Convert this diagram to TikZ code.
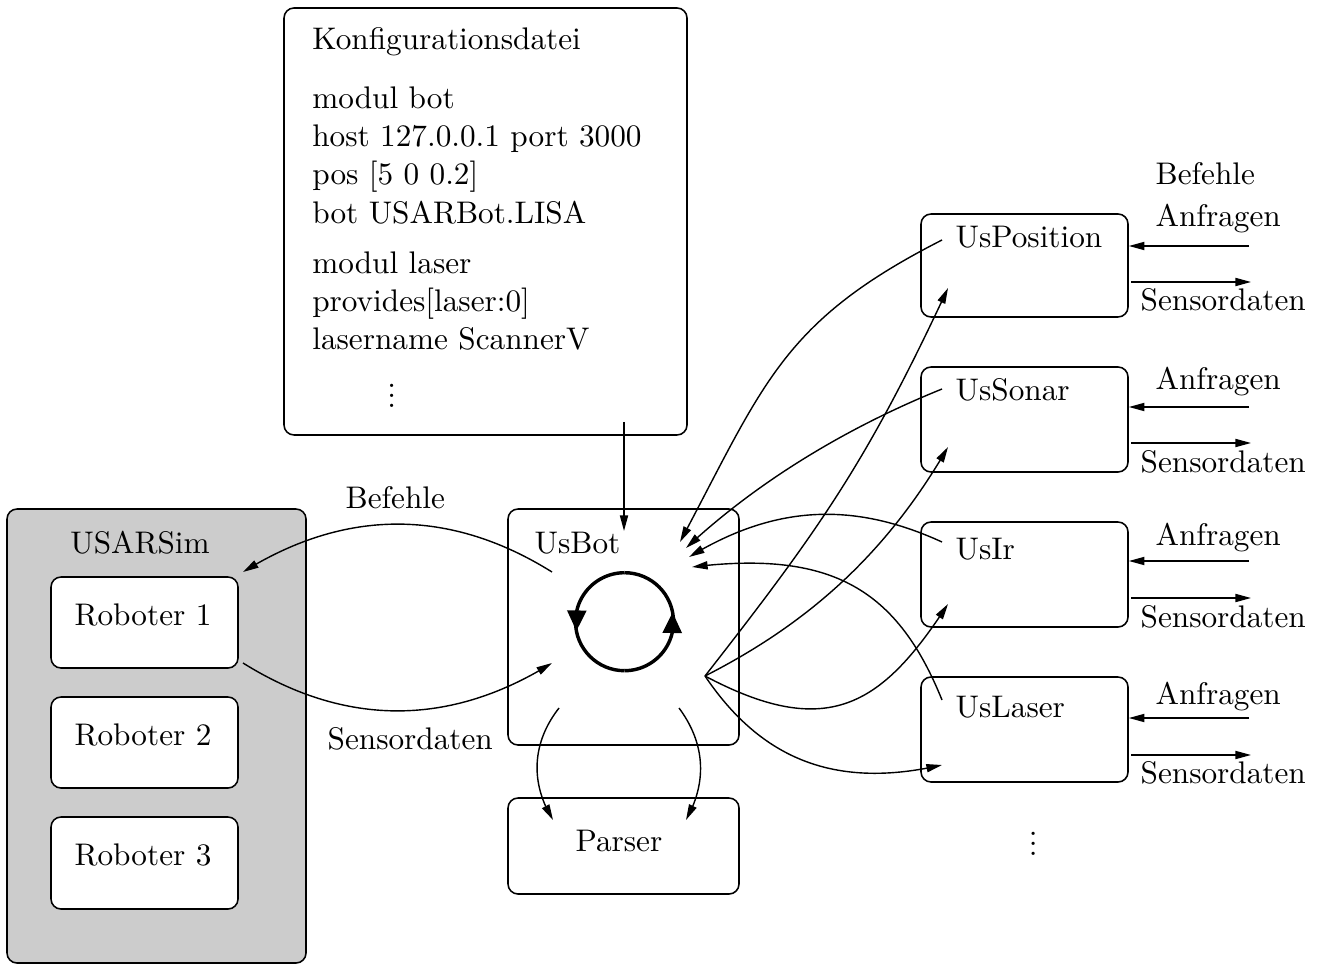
\documentclass[tikz,border=0pt]{standalone}
\usetikzlibrary{arrows.meta,bending,fit}
\newcommand\dotcol{\vbox{\baselineskip3.3pt\lineskiplimit0pt\hbox{.}\hbox{.}\hbox{.}}}
\begin{document}
\begin{tikzpicture}[x=0.32pt,y=0.32pt,
  box/.style={draw, rounded corners=3.2pt, inner sep=0pt, line width=0.5pt},
  txt/.style={inner sep=0pt, anchor=base west},
  ctxt/.style={inner sep=0pt, anchor=base},
  conn/.style={-{Triangle[length=5pt,width=2.6pt]}, line width=0.45pt},
  cyc/.style={line width=1.1pt},
  cyctip/.style={cyc, -{Triangle[length=6.6pt,width=6pt]}}]

\useasboundingbox (0,0) rectangle (1318,-965);

% ---------- boxes ----------
\node[box, fit={(284,-8) (687,-435)}] (cfg) {};
\node[box, fill=black!20, fit={(7,-509) (306,-963)}] (sim) {};
\node[box, fill=white, fit={(51,-577) (238,-668)}] (rob1) {};
\node[box, fill=white, fit={(51,-697) (238,-788)}] (rob2) {};
\node[box, fill=white, fit={(51,-817) (238,-909)}] (rob3) {};
\node[box, fit={(508,-509) (739,-745)}] (bot) {};
\node[box, fit={(508,-798) (739,-894)}] (parser) {};
\node[box, fit={(921,-214) (1128,-317)}] (upos) {};
\node[box, fit={(921,-367) (1128,-472)}] (uson) {};
\node[box, fit={(921,-522) (1128,-627)}] (uir) {};
\node[box, fit={(921,-677) (1128,-782)}] (ulas) {};

% ---------- configuration file ----------
\node[txt] (k0) at (311.7,-49.3) {Konfigurationsdatei};
\node[txt] (k1) at (311.7,-108.3) {modul bot};
\node[txt] (k2) at (311.7,-146.7) {host 127.0.0.1 port 3000};
\node[txt] (k3) at (311.7,-185) {pos [5 0 0.2]};
\node[txt] (k4) at (311.7,-223.3) {bot USARBot.LISA};
\node[txt] (k5) at (311.7,-273.3) {modul laser};
\node[txt] (k6) at (311.7,-311.7) {provides[laser:0]};
\node[txt] (k7) at (311.7,-350) {lasername ScannerV};
\node[inner sep=0pt] (k8) at (391.7,-396) {\dotcol};

% ---------- simulator ----------
\node[ctxt] (tsim) at (140,-553) {USARSim};
\node[ctxt] (trob1) at (143,-625) {Roboter 1};
\node[ctxt] (trob2) at (143,-745) {Roboter 2};
\node[ctxt] (trob3) at (143,-865) {Roboter 3};

% ---------- bot and parser ----------
\node[txt] (tbot) at (534,-553) {UsBot};
\node[ctxt] (tparser) at (619,-851) {Parser};

% ---------- sensor modules ----------
\node[txt] (tpos) at (955,-248) {UsPosition};
\node[txt] (tson) at (955,-401) {UsSonar};
\node[txt] (tir) at (955,-559) {UsIr};
\node[txt] (tlas) at (955,-717) {UsLaser};
\node[inner sep=0pt] (more) at (1033.3,-844) {\dotcol};

% ---------- link labels ----------
\node[txt] (lcmd) at (345,-508) {Befehle};
\node[txt] (lsen) at (327,-749) {Sensordaten};
\node[txt] (rcmd) at (1155,-185) {Befehle};
\node[txt] (qpos) at (1155,-227) {Anfragen};
\node[txt] (spos) at (1140,-311) {Sensordaten};
\node[txt] (qson) at (1155,-390) {Anfragen};
\node[txt] (sson) at (1140,-472) {Sensordaten};
\node[txt] (qir) at (1155,-545) {Anfragen};
\node[txt] (sir) at (1140,-627) {Sensordaten};
\node[txt] (qlas) at (1155,-704) {Anfragen};
\node[txt] (slas) at (1140,-783) {Sensordaten};

% ---------- main loop symbol ----------
\node[circle, minimum size=31.36pt, inner sep=0pt, outer sep=0pt] (loop) at (624.5,-621.7) {};
\draw[cyc] (loop.west) arc[start angle=180, end angle=270, radius=49];
\draw[cyc] (loop.east) arc[start angle=0, end angle=90, radius=49];
\draw[cyctip] (loop.north) arc[start angle=90, end angle=191, radius=49];
\draw[cyctip] (loop.south) arc[start angle=270, end angle=371, radius=49];

% ---------- connector end points ----------
\coordinate (cfgOut) at (624,-422);
\coordinate (botTop) at (624,-531);
\coordinate (cmdA) at (552,-572);
\coordinate (cmdB) at (243,-572);
\coordinate (senA) at (243,-663);
\coordinate (senB) at (552,-663);
\coordinate (posA) at (942,-240);
\coordinate (sonA) at (942,-389);
\coordinate (irA) at (942,-542);
\coordinate (lasA) at (942,-700);
\coordinate (inPos) at (680,-542);
\coordinate (inSon) at (686,-548);
\coordinate (inIr) at (689,-557);
\coordinate (inLas) at (692,-567);
\coordinate (fan) at (705,-676);
\coordinate (posB) at (948,-288);
\coordinate (sonB) at (948,-447);
\coordinate (irB) at (948,-604);
\coordinate (lasB) at (942,-765);
\coordinate (prsA) at (559,-708);
\coordinate (prsB) at (553,-820);
\coordinate (prsC) at (679,-708);
\coordinate (prsD) at (686,-820);

% configuration -> bot
\draw[conn] (cfgOut) -- (botTop);
% bot <-> simulator
\draw[conn] (cmdA) to[bend right=32] (cmdB);
\draw[conn] (senA) to[bend right=32] (senB);
% bot -> parser
\draw[conn] (prsA) to[bend right=35] (prsB);
\draw[conn] (prsC) to[bend left=33] (prsD);
% modules -> bot
\draw[conn] (posA) to[out=207, in=62, distance=57.6pt] (inPos);
\draw[conn] (sonA) to[out=202, in=43, distance=32pt] (inSon);
\draw[conn] (irA) to[bend right=28] (inIr);
\draw[conn] (lasA) to[out=112, in=7, out distance=38.4pt, in distance=44.8pt] (inLas);
% bot -> modules
\draw[conn] (fan) to[out=52, in=245, distance=60.8pt] (posB);
\draw[conn] (fan) to[out=27, in=240, distance=38.4pt] (sonB);
\draw[conn] (fan) to[out=-28, in=237, out distance=44.8pt, in distance=38.4pt] (irB);
\draw[conn] (fan) to[out=-56, in=193, out distance=32pt, in distance=35.2pt] (lasB);

% requests in, sensor data out
\coordinate (posQ) at (1249,-246);
\coordinate (posO) at (1131,-282);
\coordinate (posP) at (1251,-282);
\coordinate (sonQ) at (1249,-407);
\coordinate (sonO) at (1131,-443);
\coordinate (sonP) at (1251,-443);
\coordinate (irQ) at (1249,-561);
\coordinate (irO) at (1131,-598);
\coordinate (irP) at (1251,-598);
\coordinate (lasQ) at (1249,-718);
\coordinate (lasO) at (1131,-755);
\coordinate (lasP) at (1251,-755);
\draw[conn] (posQ) -- (posQ -| upos.east);
\draw[conn] (posO) -- (posP);
\draw[conn] (sonQ) -- (sonQ -| uson.east);
\draw[conn] (sonO) -- (sonP);
\draw[conn] (irQ) -- (irQ -| uir.east);
\draw[conn] (irO) -- (irP);
\draw[conn] (lasQ) -- (lasQ -| ulas.east);
\draw[conn] (lasO) -- (lasP);
\end{tikzpicture}
\end{document}
